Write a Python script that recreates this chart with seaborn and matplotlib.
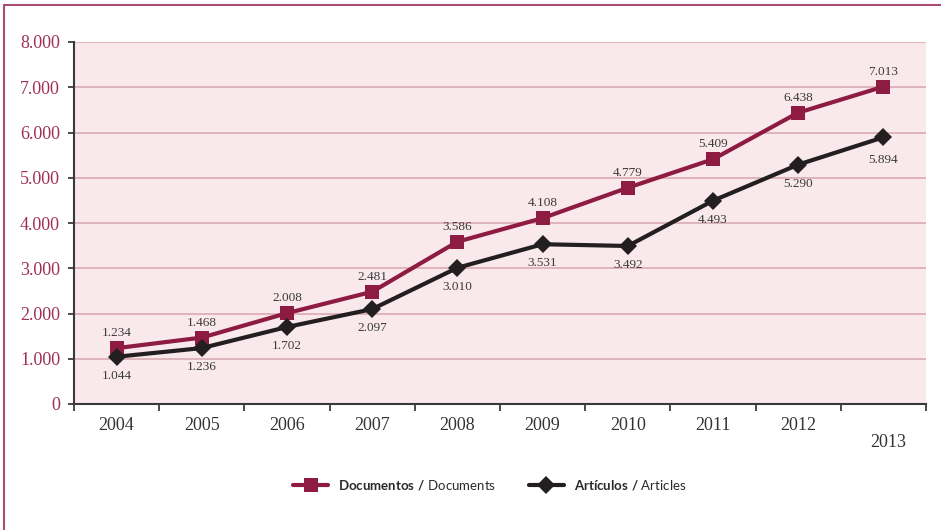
import matplotlib
matplotlib.use("Agg")
import matplotlib.pyplot as plt
import seaborn as sns
import pandas as pd
import numpy as np
from matplotlib.lines import Line2D
from matplotlib.ticker import FixedLocator, FuncFormatter

years = [2004, 2005, 2006, 2007, 2008, 2009, 2010, 2011, 2012, 2013]
documentos = [1234, 1468, 2008, 2481, 3586, 4108, 4779, 5409, 6438, 7013]
articulos = [1044, 1236, 1702, 2097, 3010, 3531, 3492, 4493, 5290, 5894]
series_names = ["Documentos", "Artículos"]

sns.set_theme(style="white")
plt.rcParams["font.family"] = ["Liberation Serif", "DejaVu Serif"]
plt.rcParams["mathtext.fontset"] = "custom"
plt.rcParams["mathtext.rm"] = "Lato"
plt.rcParams["mathtext.bf"] = "Lato:bold"

RED = "#8e1b42"
BLACK = "#231f20"
BG = "#f9e9ec"
GRID = "#dcaab4"
TICKCOL = "#9e3058"
FRAME = "#a84d73"

df = pd.DataFrame({
    "idx": list(range(len(years))) * 2,
    "value": documentos + articulos,
    "serie": [series_names[0]] * len(years) + [series_names[1]] * len(years),
})

fig = plt.figure(figsize=(9.41, 5.30), dpi=100)
ax = fig.add_axes([74 / 941, 1 - 404 / 530, (926 - 74) / 941, (404 - 42) / 530])
ax.set_facecolor(BG)

sns.lineplot(data=df, x="idx", y="value", hue="serie", style="serie",
             palette={series_names[0]: RED, series_names[1]: BLACK},
             markers={series_names[0]: "s", series_names[1]: "D"},
             dashes=False, linewidth=3, markersize=10, markeredgewidth=0,
             legend=False, ax=ax, zorder=3)
for ln in ax.lines:
    if ln.get_marker() == "D":
        ln.set_markersize(9)

ax.set_xlim(-0.5, len(years) - 0.5)
ax.set_ylim(0, 8000)
ax.set_xlabel("")
ax.set_ylabel("")

ax.yaxis.set_major_locator(FixedLocator(np.arange(0, 8001, 1000)))
ax.yaxis.set_major_formatter(FuncFormatter(lambda v, p: f"{int(v):,}".replace(",", ".")))
ax.grid(axis="y", color=GRID, linewidth=1.2, zorder=0)
ax.set_axisbelow(True)

for s in ["top", "right"]:
    ax.spines[s].set_visible(False)
for s in ["left", "bottom"]:
    ax.spines[s].set_color("#3a3a3a")
    ax.spines[s].set_linewidth(1.5)

ax.tick_params(axis="y", which="major", direction="out", length=4, width=1.3,
               color="#3a3a3a", labelcolor=TICKCOL, labelsize=13, pad=6, left=True)
ax.set_xticks(np.arange(-0.5, len(years), 1.0))
ax.set_xticklabels([])
ax.set_xticks(range(len(years) - 1), minor=True)
ax.set_xticklabels([str(y) for y in years[:-1]], minor=True)
ax.tick_params(axis="x", which="major", direction="out", length=5, width=1.3,
               color="#3a3a3a", bottom=True)
ax.tick_params(axis="x", which="minor", length=0, labelsize=13, labelcolor="#333333", pad=9)
ax.text(len(years) - 1 + 0.06, -0.107, str(years[-1]), transform=ax.get_xaxis_transform(),
        ha="center", va="center", fontsize=13, color="#333333")

fmt = lambda v: f"{v:,}".replace(",", ".")
for i, v in enumerate(documentos):
    ax.annotate(fmt(v), (i, v), xytext=(0, 15), textcoords="offset pixels",
                ha="center", va="center", fontsize=9.5, color="#3a3a3a")
for i, v in enumerate(articulos):
    off = -23 if i == len(years) - 1 else -19
    ax.annotate(fmt(v), (i, v), xytext=(0, off), textcoords="offset pixels",
                ha="center", va="center", fontsize=9.5, color="#3a3a3a")

handles = [
    Line2D([], [], color=RED, marker="s", markersize=10, linewidth=3, markeredgewidth=0),
    Line2D([], [], color=BLACK, marker="D", markersize=9, linewidth=3, markeredgewidth=0),
]
labels = [r"$\mathbf{Documentos\ /}$ Documents", r"$\mathbf{Artículos\ /}$ Articles"]
leg = fig.legend(handles, labels, loc="center", bbox_to_anchor=(490 / 941, 1 - 485 / 530),
                 ncol=2, frameon=False, handlelength=2.6, columnspacing=2.5,
                 prop={"family": "Lato", "size": 9.5})
for t in leg.get_texts():
    t.set_color("#2a2a2a")

fig.add_artist(Line2D([4 / 941, 1], [1 - 5 / 530, 1 - 5 / 530], color=FRAME, linewidth=1.5,
                      transform=fig.transFigure))
fig.add_artist(Line2D([4 / 941, 4 / 941], [0, 1 - 5 / 530], color=FRAME, linewidth=1.5,
                      transform=fig.transFigure))

fig.savefig("out.png", dpi=100)
